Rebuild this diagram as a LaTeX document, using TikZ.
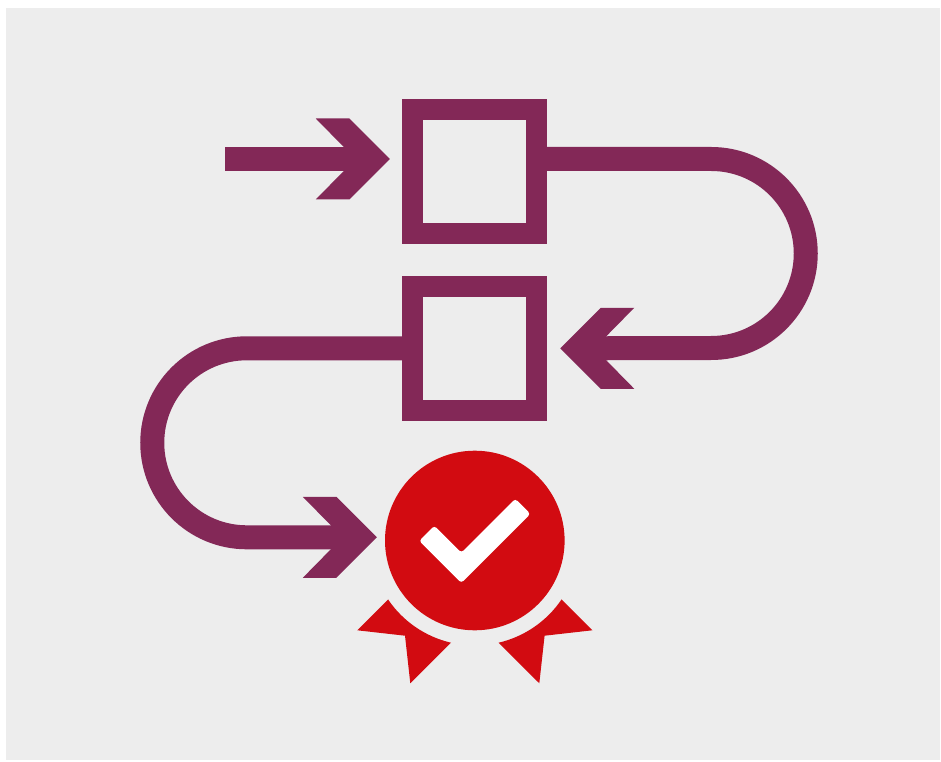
\documentclass[tikz,border=0pt]{standalone}
\usepackage{xcolor}
\usepackage{tikz}
\usetikzlibrary{positioning}
\definecolor{panelgrey}{RGB}{237,237,237}
\definecolor{flowpurple}{RGB}{131,40,87}
\definecolor{sealred}{RGB}{210,11,17}

\begin{document}
\begin{tikzpicture}[
  x=1pt, y=1pt,
  stepbox/.style={draw=flowpurple, line width=21pt, minimum size=124.5pt,
                  inner sep=0pt, fill=none},
  flowline/.style={draw=flowpurple, line width=24pt},
  sealdisc/.style={circle, fill=sealred, minimum size=179.6pt, inner sep=0pt},
  chevron/.pic={
    \fill[flowpurple] (0,0) -- (-40.5,40.5) -- (-74,40.5) -- (-46,12)
      -- (-46,-12) -- (-74,-40.5) -- (-40.5,-40.5) -- cycle;
  }
]
\useasboundingbox (0,0) rectangle (941,761);
\fill[panelgrey] (6,1) rectangle (940,753);

\node[stepbox] (boxa) at (474.5,589.7) {};
\node[stepbox, below=31.5pt of boxa] (boxb) {};
\node[sealdisc] (seal) at (474.8,220.5) {};
\coordinate (inlet) at (225,602);

\draw[flowline] (inlet) -- ([shift={(-45,12.3)}]boxa.west);
\pic at ([shift={(-12,12.3)}]boxa.west) {chevron};

\draw[flowline] ([shift={(-3,12.3)}]boxa.east) -- ++(167,0)
  arc[start angle=90, end angle=-90, radius=94.5] -- ([xshift=40]boxb.east);
\pic[rotate=180] at ([xshift=13]boxb.east) {chevron};

\draw[flowline] ([xshift=3]boxb.west) -- ++(-158,0)
  arc[start angle=90, end angle=270, radius=94.5] -- ([shift={(-40,3.2)}]seal.west);
\pic at ([shift={(-8,3.2)}]seal.west) {chevron};

\fill[white, rounded corners=3pt] (434.3,235.3) -- (461.3,208.3) -- (515.25,262.25)
  -- (530.4,247.1) -- (461.3,178) -- (419.15,220.15) -- cycle;

\foreach \flip in {1,-1} {
  \begin{scope}[shift={(seal.center)}, xscale=\flip]
    \fill[sealred] (-86.5,-58.8) -- (-117.5,-89.8) -- (-69.8,-95.2) -- (-64.5,-142.8)
      -- (-23.8,-102.2) arc[start angle=256.9, end angle=214.2, radius=104.7] -- cycle;
  \end{scope}
}
\end{tikzpicture}
\end{document}
